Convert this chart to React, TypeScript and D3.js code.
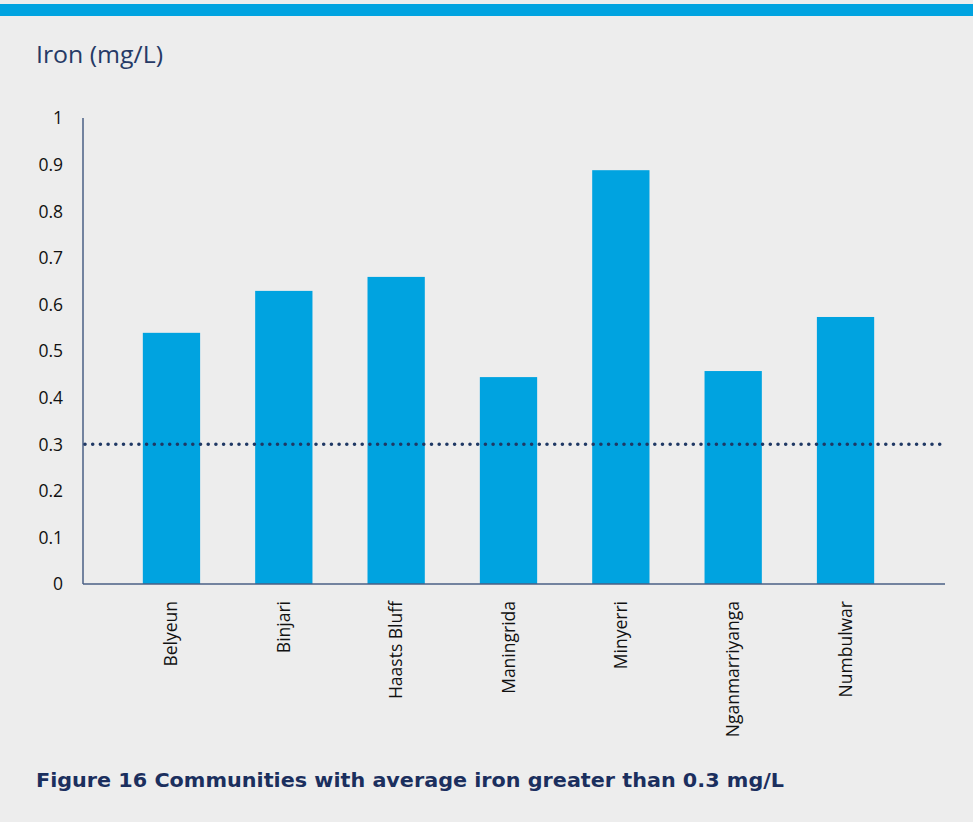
import React, { useEffect, useRef } from "react";
import * as d3 from "d3";

// Average iron concentration per community (mg/L)
const communities = [
  "Belyeun",
  "Binjari",
  "Haasts Bluff",
  "Maningrida",
  "Minyerri",
  "Nganmarriyanga",
  "Numbulwar",
];
const ironValues = [0.539, 0.629, 0.659, 0.444, 0.888, 0.457, 0.573];
const yTicks = [0, 0.1, 0.2, 0.3, 0.4, 0.5, 0.6, 0.7, 0.8, 0.9, 1];
const guidelineValue = 0.3;

const W = 973;
const H = 822;

export default function App() {
  const ref = useRef<SVGSVGElement>(null);

  useEffect(() => {
    const svg = d3.select(ref.current);
    svg.selectAll("*").remove();

    svg.append("rect").attr("width", W).attr("height", H).attr("fill", "#ededed");
    svg.append("rect").attr("x", 0).attr("y", 4).attr("width", W).attr("height", 12).attr("fill", "#00a3e0");

    svg
      .append("text")
      .attr("x", 36)
      .attr("y", 62.5)
      .attr("font-family", "'Open Sans', sans-serif")
      .attr("font-weight", 400)
      .attr("font-size", 23.5)
      .attr("textLength", 127)
      .attr("lengthAdjust", "spacingAndGlyphs")
      .attr("fill", "#263a66")
      .text("Iron (mg/L)");

    const axisLeft = 83;
    const axisRight = 945;
    const y = d3.scaleLinear().domain([0, 1]).range([584, 118]);
    const x = d3
      .scaleBand<string>()
      .domain(communities)
      .range([115.3, 901.7])
      .paddingInner(0.49)
      .paddingOuter(0.245);

    const font = "'Open Sans', sans-serif";

    // y tick labels
    svg
      .append("g")
      .selectAll("text")
      .data(yTicks)
      .join("text")
      .attr("x", 63)
      .attr("y", (d) => y(d))
      .attr("dy", "0.36em")
      .attr("text-anchor", "end")
      .attr("font-family", font)
      .attr("font-size", 17.5)
      .attr("fill", "#111")
      .text((d) => d3.format("")(d));

    // bars
    svg
      .append("g")
      .selectAll("rect")
      .data(communities)
      .join("rect")
      .attr("x", (d) => x(d)!)
      .attr("width", x.bandwidth())
      .attr("y", (d, i) => y(ironValues[i]))
      .attr("height", (d, i) => y(0) - y(ironValues[i]))
      .attr("fill", "#00a3e0");

    // axes
    svg
      .append("line")
      .attr("x1", axisLeft)
      .attr("x2", axisLeft)
      .attr("y1", y(1))
      .attr("y2", y(0))
      .attr("stroke", "#4a5f85")
      .attr("stroke-width", 1.5);
    svg
      .append("line")
      .attr("x1", axisLeft)
      .attr("x2", axisRight)
      .attr("y1", y(0))
      .attr("y2", y(0))
      .attr("stroke", "#4a5f85")
      .attr("stroke-width", 1.5);

    // 0.3 mg/L guideline
    svg
      .append("line")
      .attr("x1", axisLeft + 2)
      .attr("x2", 942)
      .attr("y1", y(guidelineValue))
      .attr("y2", y(guidelineValue))
      .attr("stroke", "#1f3864")
      .attr("stroke-width", 3.6)
      .attr("stroke-linecap", "round")
      .attr("stroke-dasharray", "0 7.7");

    // category labels
    svg
      .append("g")
      .selectAll("text")
      .data(communities)
      .join("text")
      .attr("transform", (d) => `translate(${x(d)! + x.bandwidth() / 2 + 6},601) rotate(-90)`)
      .attr("text-anchor", "end")
      .attr("font-family", font)
      .attr("font-size", 17.5)
      .attr("fill", "#111")
      .text((d) => d);

    svg
      .append("text")
      .attr("x", 36)
      .attr("y", 787)
      .attr("font-family", "'DejaVu Sans', sans-serif")
      .attr("font-weight", 700)
      .attr("font-size", 20)
      .attr("textLength", 748)
      .attr("lengthAdjust", "spacingAndGlyphs")
      .attr("fill", "#1b2f5e")
      .text("Figure 16 Communities with average iron greater than 0.3 mg/L");
  }, []);

  return (
    <svg
      ref={ref}
      width={W}
      height={H}
      style={{ position: "absolute", left: 0, top: 0, display: "block" }}
    />
  );
}
